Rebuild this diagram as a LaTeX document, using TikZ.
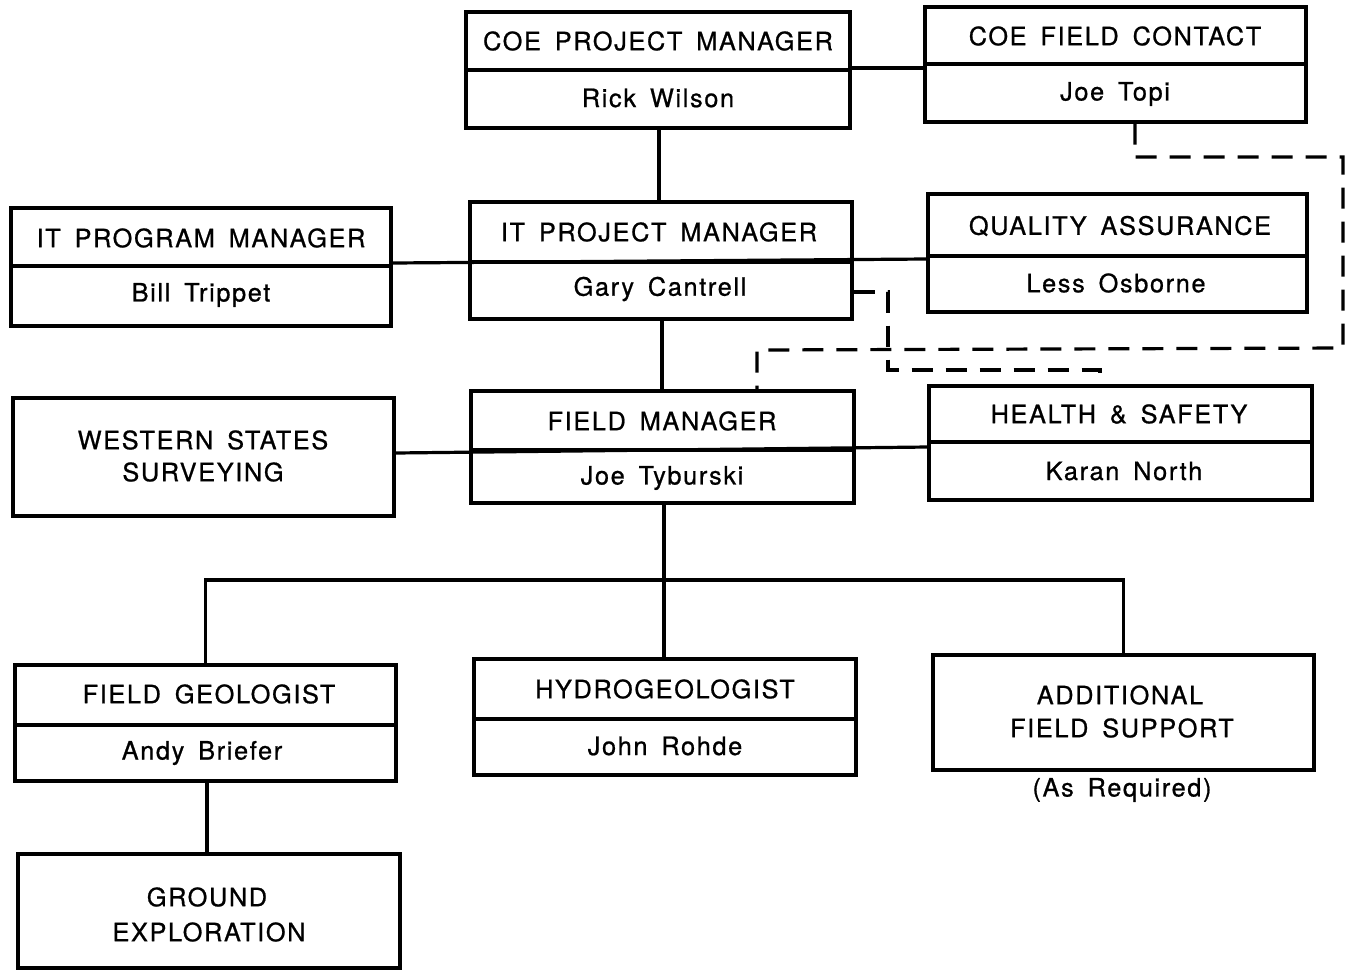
\documentclass[tikz,border=0pt]{standalone}
\usepackage{fontspec}
\setmainfont{TeX Gyre Heros}[LetterSpace=6.5,WordSpace=1.6,FakeBold=0.8]
\usetikzlibrary{calc}
\begin{document}
\begin{tikzpicture}[x=1pt,y=-1pt,line width=3.2pt,
  box/.style={draw,line width=3.2pt,inner sep=0pt,rectangle},
  lbl/.style={inner sep=0pt,anchor=center,font=\fontsize{25.3}{30}\selectfont},
  dashln/.style={line width=3.2pt,dash pattern=on 21pt off 13pt}]
\useasboundingbox (0,0) rectangle (1356,970);
% boxes
\node[box,minimum width=384pt,minimum height=116pt] (coepm) at (658,70) {};
\node[box,minimum width=381pt,minimum height=115pt] (coefc) at (1115.5,64.5) {};
\node[box,minimum width=380pt,minimum height=118pt] (itprog) at (201,267) {};
\node[box,minimum width=382pt,minimum height=117pt] (itpm) at (661,260.5) {};
\node[box,minimum width=379pt,minimum height=118pt] (qa) at (1117.5,253) {};
\node[box,minimum width=381pt,minimum height=118pt] (wss) at (203.5,457) {};
\node[box,minimum width=383pt,minimum height=112pt] (fm) at (662.5,447) {};
\node[box,minimum width=383pt,minimum height=114pt] (hs) at (1120.5,443) {};
\node[box,minimum width=381pt,minimum height=116pt] (fg) at (205.5,723) {};
\node[box,minimum width=382pt,minimum height=116pt] (hydro) at (665,717) {};
\node[box,minimum width=381pt,minimum height=115pt] (afs) at (1123.5,712.5) {};
\node[box,minimum width=382pt,minimum height=114pt] (ge) at (209,911) {};
% dividers
\draw (coepm.west |- 0,70) -- (coepm.east |- 0,70);
\draw (coefc.west |- 0,64) -- (coefc.east |- 0,64);
\draw (itprog.west |- 0,266) -- (itprog.east |- 0,266);
\draw (itpm.west |- 0,262) -- (itpm.east |- 0,262);
\draw (qa.west |- 0,256) -- (qa.east |- 0,256);
\draw (fm.west |- 0,450) -- (fm.east |- 0,450);
\draw (hs.west |- 0,442) -- (hs.east |- 0,442);
\draw (fg.west |- 0,725) -- (fg.east |- 0,725);
\draw (hydro.west |- 0,719) -- (hydro.east |- 0,719);
% texts
\node[lbl] (t1) at (658,41) {COE PROJECT MANAGER};
\node[lbl] (n1) at (658,98) {Rick Wilson};
\node[lbl] (t2) at (1115,36) {COE FIELD CONTACT};
\node[lbl] (n2) at (1115,94) {Joe Topi};
\node[lbl] (t3) at (201,238) {IT PROGRAM MANAGER};
\node[lbl] (n3) at (201,295) {Bill Trippet};
\node[lbl] (t4) at (659,232) {IT PROJECT MANAGER};
\node[lbl] (n4) at (660,289) {Gary Cantrell};
\node[lbl] (t5) at (1120,226) {QUALITY ASSURANCE};
\node[lbl] (n5) at (1116,283) {Less Osborne};
\node[lbl] (t6) at (203,440) {WESTERN STATES};
\node[lbl] (t6b) at (203,472) {SURVEYING};
\node[lbl] (t7) at (662,421) {FIELD MANAGER};
\node[lbl] (n7) at (662,478) {Joe Tyburski};
\node[lbl] (t8) at (1119,414) {HEALTH \& SAFETY};
\node[lbl] (n8) at (1124,471) {Karan North};
\node[lbl] (t9) at (209,694) {FIELD GEOLOGIST};
\node[lbl] (n9) at (202,753) {Andy Briefer};
\node[lbl] (t10) at (665,689) {HYDROGEOLOGIST};
\node[lbl] (n10) at (665,746) {John Rohde};
\node[lbl] (t11) at (1120,695) {ADDITIONAL};
\node[lbl] (t11b) at (1122,728) {FIELD SUPPORT};
\node[lbl] (n11) at (1122,790) {(As Required)};
\node[lbl] (t12) at (207,897) {GROUND};
\node[lbl] (t12b) at (209,932) {EXPLORATION};
% solid connectors
\draw (coepm.east |- 0,68) -- (coefc.west |- 0,68);
\draw (coepm.south -| 659,0) -- (itpm.north -| 659,0);
\draw (itprog.east |- 0,263) -- (qa.west |- 0,259);
\draw (itpm.south -| 662,0) -- (fm.north -| 662,0);
\draw (wss.east |- 0,453) -- (hs.west |- 0,447);
\coordinate (busL) at (fg.north |- 0,580);
\coordinate (busR) at (afs.north |- 0,580);
\draw (fg.north) -- (busL) -- (busR) -- (afs.north);
\draw (fm.south -| 664,0) -- (hydro.north -| 664,0);
\draw (fg.south -| 207,0) -- (ge.north -| 207,0);
% dashed connectors
\coordinate (d1) at (1135,157);
\coordinate (d2) at (1343,157);
\coordinate (d3) at (1343,348);
\coordinate (d4) at (757,350);
\draw[dashln] (coefc.south -| d1) -- (d1) -- (d2) -- (d3) -- (d4) -- (fm.north -| d4);
\coordinate (e1) at (888,292);
\coordinate (e2) at (888,370);
\coordinate (e3) at (1100,370);
\draw[dashln] (itpm.east |- e1) -- (e1) -- (e2) -- (e3) -- (hs.north -| e3);
\end{tikzpicture}
\end{document}
